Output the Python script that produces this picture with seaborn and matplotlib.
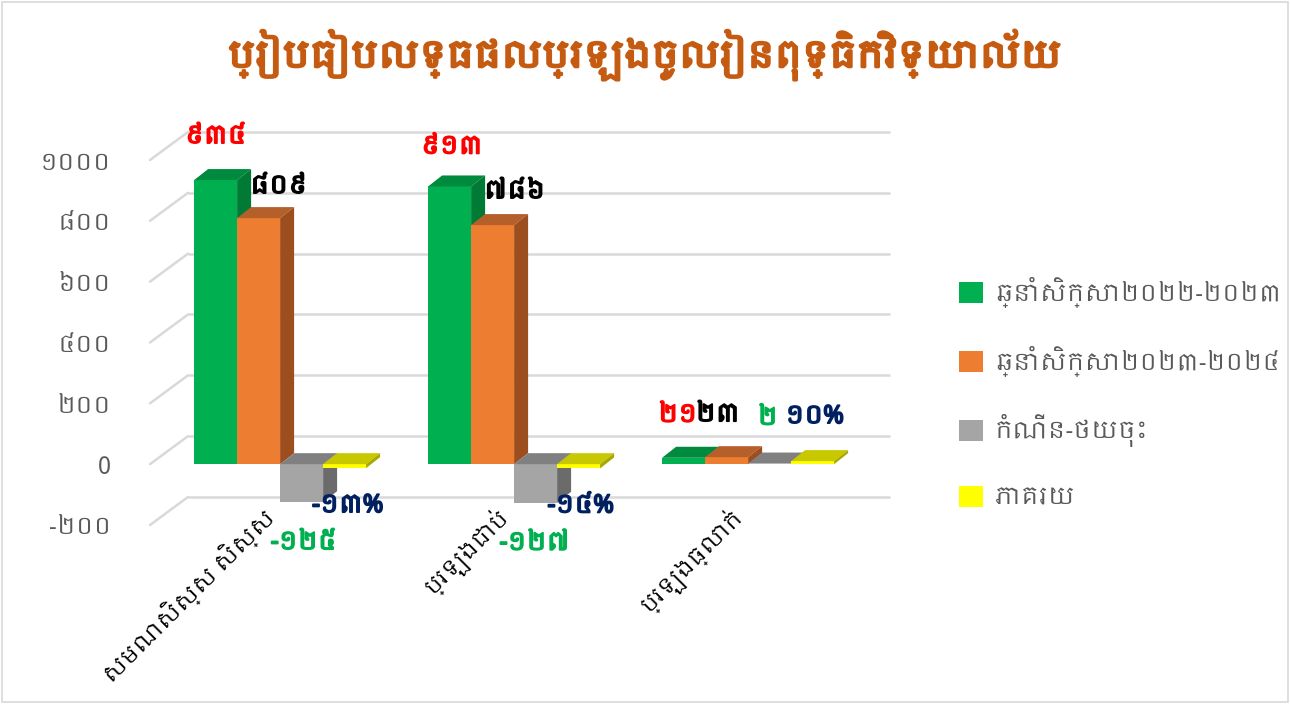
import numpy as np
import pandas as pd
import matplotlib
matplotlib.use("Agg")
import matplotlib.pyplot as plt
import matplotlib.transforms as mtransforms
import matplotlib.patheffects as pe
from matplotlib.patches import Polygon, Rectangle
from matplotlib import font_manager
import seaborn as sns

# ---------------- data ----------------
TITLE = "ប្រៀបធៀបលទ្ធផលប្រឡងចូលរៀនពុទ្ធិកវិទ្យាល័យ"
categories = ["សមណសិស្ស សិស្ស", "ប្រឡងជាប់", "ប្រឡងធ្លាក់"]
series_names = ["ឆ្នាំសិក្សា២០២២-២០២៣", "ឆ្នាំសិក្សា២០២៣-២០២៤", "កំណើន-ថយចុះ", "ភាគរយ"]
year_2022_2023 = [934, 913, 21]
year_2023_2024 = [809, 786, 23]
change = [-125, -127, 2]
percent = [-13, -14, 10]
y_ticks = [-200, 0, 200, 400, 600, 800, 1000]

# ---------------- style ----------------
bar_colors = ["#00B050", "#ED7D31", "#A5A5A5", "#FFFF00"]
top_colors = ["#008A3E", "#B5602A", "#808080", "#C8C800"]
side_colors = ["#007A35", "#9C4E1E", "#6B6B6B", "#A8A800"]
label_colors = ["#FF0000", "#000000", "#00B050", "#002060"]


def find_khmer_font():
    for f in font_manager.fontManager.ttflist:
        if "khmer" in f.name.lower():
            return f.name
    try:
        from matplotlib.ft2font import FT2Font
        for f in font_manager.fontManager.ttflist:
            try:
                cm = FT2Font(f.fname).get_charmap()
                if 0x1780 in cm and 0x17D2 in cm:
                    return f.name
            except Exception:
                pass
    except Exception:
        pass
    return None


sns.set_style("white")
kh = find_khmer_font()
FAMILY = [kh, "DejaVu Sans"] if kh else ["DejaVu Sans"]
plt.rcParams["font.family"] = FAMILY

KH_DIGITS = str.maketrans("0123456789", "០១២៣៤៥៦៧៨៩")


def kh_num(v, pct=False):
    s = str(v).translate(KH_DIGITS)
    return s + ("%" if pct else "")


df = pd.DataFrame({
    "category": categories * 4,
    "series": sum([[s] * len(categories) for s in series_names], []),
    "value": year_2022_2023 + year_2023_2024 + change + percent,
})

W, H = 1290, 704
fig = plt.figure(figsize=(W / 100, H / 100), dpi=100)
fig.patch.set_facecolor("white")

# front plane of the 3D plot area
ax_l, ax_r, ax_t, ax_b = 150, 852, 160, 525
ax = fig.add_axes([ax_l / W, 1 - ax_b / H, (ax_r - ax_l) / W, (ax_b - ax_t) / H])
ax.set_facecolor("none")

sns.barplot(data=df, x="category", y="value", hue="series", hue_order=series_names,
            palette=bar_colors, width=0.735, gap=0, saturation=1, errorbar=None,
            legend=False, ax=ax, order=categories)

ax.set_xlim(-0.556, 2.444)
ax.set_ylim(-200, 1000)
for s in ax.spines.values():
    s.set_visible(False)
ax.set_xlabel("")
ax.set_ylabel("")
ax.set_xticks([])

# y ticks
ax.set_yticks(y_ticks)
ax.set_yticklabels([("0" if v == 0 else kh_num(v)) for v in y_ticks],
                   fontsize=17, color="#595959")
ax.tick_params(axis="y", length=0, pad=28)

# back-wall gridlines (3D look)
DX_WALL, DY_WALL = 38, 28
ytrans = ax.get_yaxis_transform()
wall_trans = mtransforms.offset_copy(ytrans, fig=fig, x=DX_WALL, y=DY_WALL, units="dots")
grid_c = "#D9D9D9"
for v in y_ticks:
    ax.plot([0, 1], [v, v], transform=wall_trans, color=grid_c, lw=1.8,
            clip_on=False, zorder=0.5, solid_capstyle="butt")
    ax.annotate("", xy=(0, v), xycoords=ytrans, xytext=(DX_WALL, DY_WALL),
                textcoords="offset pixels",
                arrowprops=dict(arrowstyle="-", color=grid_c, lw=1.8,
                                shrinkA=0, shrinkB=0), zorder=0.5)

# 3D faces for each bar
fig.canvas.draw()
p0 = ax.transData.transform((0, 0))
p1 = ax.transData.transform((1, 100))
px_x = p1[0] - p0[0]
px_y = (p1[1] - p0[1]) / 100.0
DX, DY = 14 / px_x, 11 / px_y

bars = [p for p in ax.patches if isinstance(p, Rectangle)]
n_cat = len(categories)
bar_info = []
for k, p in enumerate(bars):
    bar_info.append((p, k // n_cat, k % n_cat))
bar_info.sort(key=lambda t: t[0].get_x())

for rank, (p, s_idx, c_idx) in enumerate(bar_info):
    x, y, w, h = p.get_x(), p.get_y(), p.get_width(), p.get_height()
    y0, y1 = min(y, y + h), max(y, y + h)
    z = 2 + rank * 0.01
    p.set_zorder(z)
    p.set_edgecolor("none")
    top = Polygon([(x, y1), (x + w, y1), (x + w + DX, y1 + DY), (x + DX, y1 + DY)],
                  closed=True, facecolor=top_colors[s_idx], edgecolor="none", zorder=z + 0.001)
    side = Polygon([(x + w, y0), (x + w, y1), (x + w + DX, y1 + DY), (x + w + DX, y0 + DY)],
                   closed=True, facecolor=side_colors[s_idx], edgecolor="none", zorder=z + 0.002)
    ax.add_patch(top)
    ax.add_patch(side)

# data labels
label_offsets = [
    [(0, 44), (2, 40), (-6, 43)],
    [(20, 32), (22, 34), (-9, 43)],
    [(2, -40), (-1, -40), (-2, 46)],
    [(3, -37), (2, -37), (2, 45)],
]
for p, s_idx, c_idx in bar_info:
    v = df[df["series"] == series_names[s_idx]]["value"].tolist()[c_idx]
    cx = p.get_x() + p.get_width() / 2
    yv = p.get_y() + p.get_height()
    txt = kh_num(v, pct=(s_idx == 3))
    ax.annotate(txt, xy=(cx, yv), xycoords="data",
                xytext=label_offsets[s_idx][c_idx], textcoords="offset pixels",
                ha="center", va="center", fontsize=18, fontweight="bold",
                color=label_colors[s_idx], zorder=10, annotation_clip=False,
                path_effects=[pe.withStroke(linewidth=1.3, foreground=label_colors[s_idx])])

# category labels (rotated, ending at each category)
for i, cat in enumerate(categories):
    ax.text(i - 0.08, -128, cat, rotation=45, rotation_mode="anchor",
            ha="right", va="top", fontsize=16, color="black", clip_on=False)

# legend
handles = [Rectangle((0, 0), 1, 1, facecolor=c, edgecolor="none") for c in bar_colors]
leg = fig.legend(handles, series_names, loc="center left",
                 bbox_to_anchor=(950 / W, 1 - 393 / H), frameon=False,
                 fontsize=17, handlelength=1.0, handleheight=1.0,
                 labelspacing=1.6, handletextpad=0.5, borderaxespad=0)
for t in leg.get_texts():
    t.set_color("#595959")

# title
fig.text(0.5, 1 - 55 / H, TITLE, ha="center", va="center", fontsize=26,
         fontweight="bold", color="#C55A11",
         path_effects=[pe.withStroke(linewidth=2.0, foreground="#C55A11")])

# chart border
fig.patches.append(Rectangle((2 / W, 2 / H), 1 - 4 / W, 1 - 4 / H, transform=fig.transFigure,
                             fill=False, edgecolor="#D9D9D9", lw=1.2))

fig.savefig("out.png", dpi=100, facecolor="white")
